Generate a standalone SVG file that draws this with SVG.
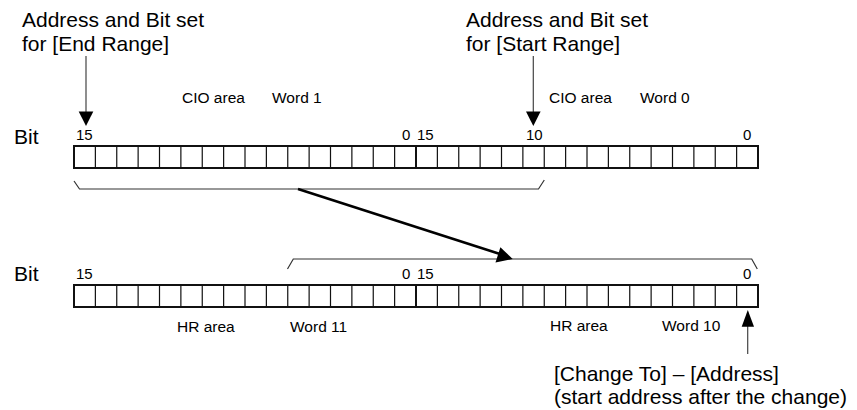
<svg xmlns="http://www.w3.org/2000/svg" width="857" height="410" viewBox="0 0 857 410">
<style>
text{font-family:"Liberation Sans",Arial,sans-serif;fill:#000}
.big{font-size:21px}
.sm{font-size:15.5px}
.num{font-size:15px}
.outer{fill:#fff;stroke:#111;stroke-width:2}
.inner{fill:none;stroke:#111;stroke-width:1.2}
.mid{fill:none;stroke:#111;stroke-width:2}
.brk{fill:none;stroke:#333;stroke-width:1.2}
.thick{fill:none;stroke:#000;stroke-width:2.6}
.thin{fill:none;stroke:#444;stroke-width:1.2}
</style>
<defs>
<g id="reg">
<rect class="outer" x="74" y="0" width="684" height="22"/>
<path class="inner" d="M95.375,0V22M116.75,0V22M138.125,0V22M159.5,0V22M180.875,0V22M202.25,0V22M223.625,0V22M245,0V22M266.375,0V22M287.75,0V22M309.125,0V22M330.5,0V22M351.875,0V22M373.25,0V22M394.625,0V22M437.375,0V22M458.75,0V22M480.125,0V22M501.5,0V22M522.875,0V22M544.25,0V22M565.625,0V22M587,0V22M608.375,0V22M629.75,0V22M651.125,0V22M672.5,0V22M693.875,0V22M715.25,0V22M736.625,0V22"/>
<path class="mid" d="M416,0V22"/>
</g>
</defs>

<g id="label-end-range">
<text class="big" x="22" y="27">Address and Bit set</text>
<text class="big" x="22" y="51">for [End Range]</text>
</g>
<g id="label-start-range">
<text class="big" x="466" y="27">Address and Bit set</text>
<text class="big" x="466" y="51">for [Start Range]</text>
</g>

<g id="cio-register">
<text class="sm" x="182" y="103">CIO area</text>
<text class="sm" x="272" y="103">Word 1</text>
<text class="sm" x="549" y="103">CIO area</text>
<text class="sm" x="640" y="103">Word 0</text>
<text class="big" x="14" y="144">Bit</text>
<text class="num" x="76" y="140">15</text>
<text class="num" x="402" y="140">0</text>
<text class="num" x="417" y="140">15</text>
<text class="num" x="526" y="140">10</text>
<text class="num" x="743" y="140">0</text>
<use href="#reg" y="146"/>
</g>

<g id="hr-register">
<text class="big" x="14" y="281">Bit</text>
<text class="num" x="76" y="279">15</text>
<text class="num" x="402" y="279">0</text>
<text class="num" x="417" y="279">15</text>
<text class="num" x="743" y="279">0</text>
<use href="#reg" y="285"/>
<text class="sm" x="177" y="332">HR area</text>
<text class="sm" x="290" y="332">Word 11</text>
<text class="sm" x="550" y="331">HR area</text>
<text class="sm" x="662" y="331">Word 10</text>
</g>

<g id="label-change-to">
<text class="big" x="554" y="381">[Change To] – [Address]</text>
<text class="big" x="554" y="404">(start address after the change)</text>
</g>

<g id="connectors">
<path class="thin" d="M86,56V113"/>
<path d="M78.7,111.5H93.3L86,126Z" fill="#000"/>
<path class="thin" d="M533.3,56V113"/>
<path d="M526,111.5H540.6L533.3,126Z" fill="#000"/>
<path class="brk" d="M74,181L79.5,189H538.5L544.3,180"/>
<path class="brk" d="M287.5,269L293.3,259H751.7L757.3,269"/>
<path class="thick" d="M298,189L500,254"/>
<path d="M512.7,259L495.5,262.4L500.4,247.2Z" fill="#000"/>
<path class="thin" d="M747.7,325V354"/>
<path d="M741.7,326.7H754L747.8,310Z" fill="#000"/>
</g>
</svg>
